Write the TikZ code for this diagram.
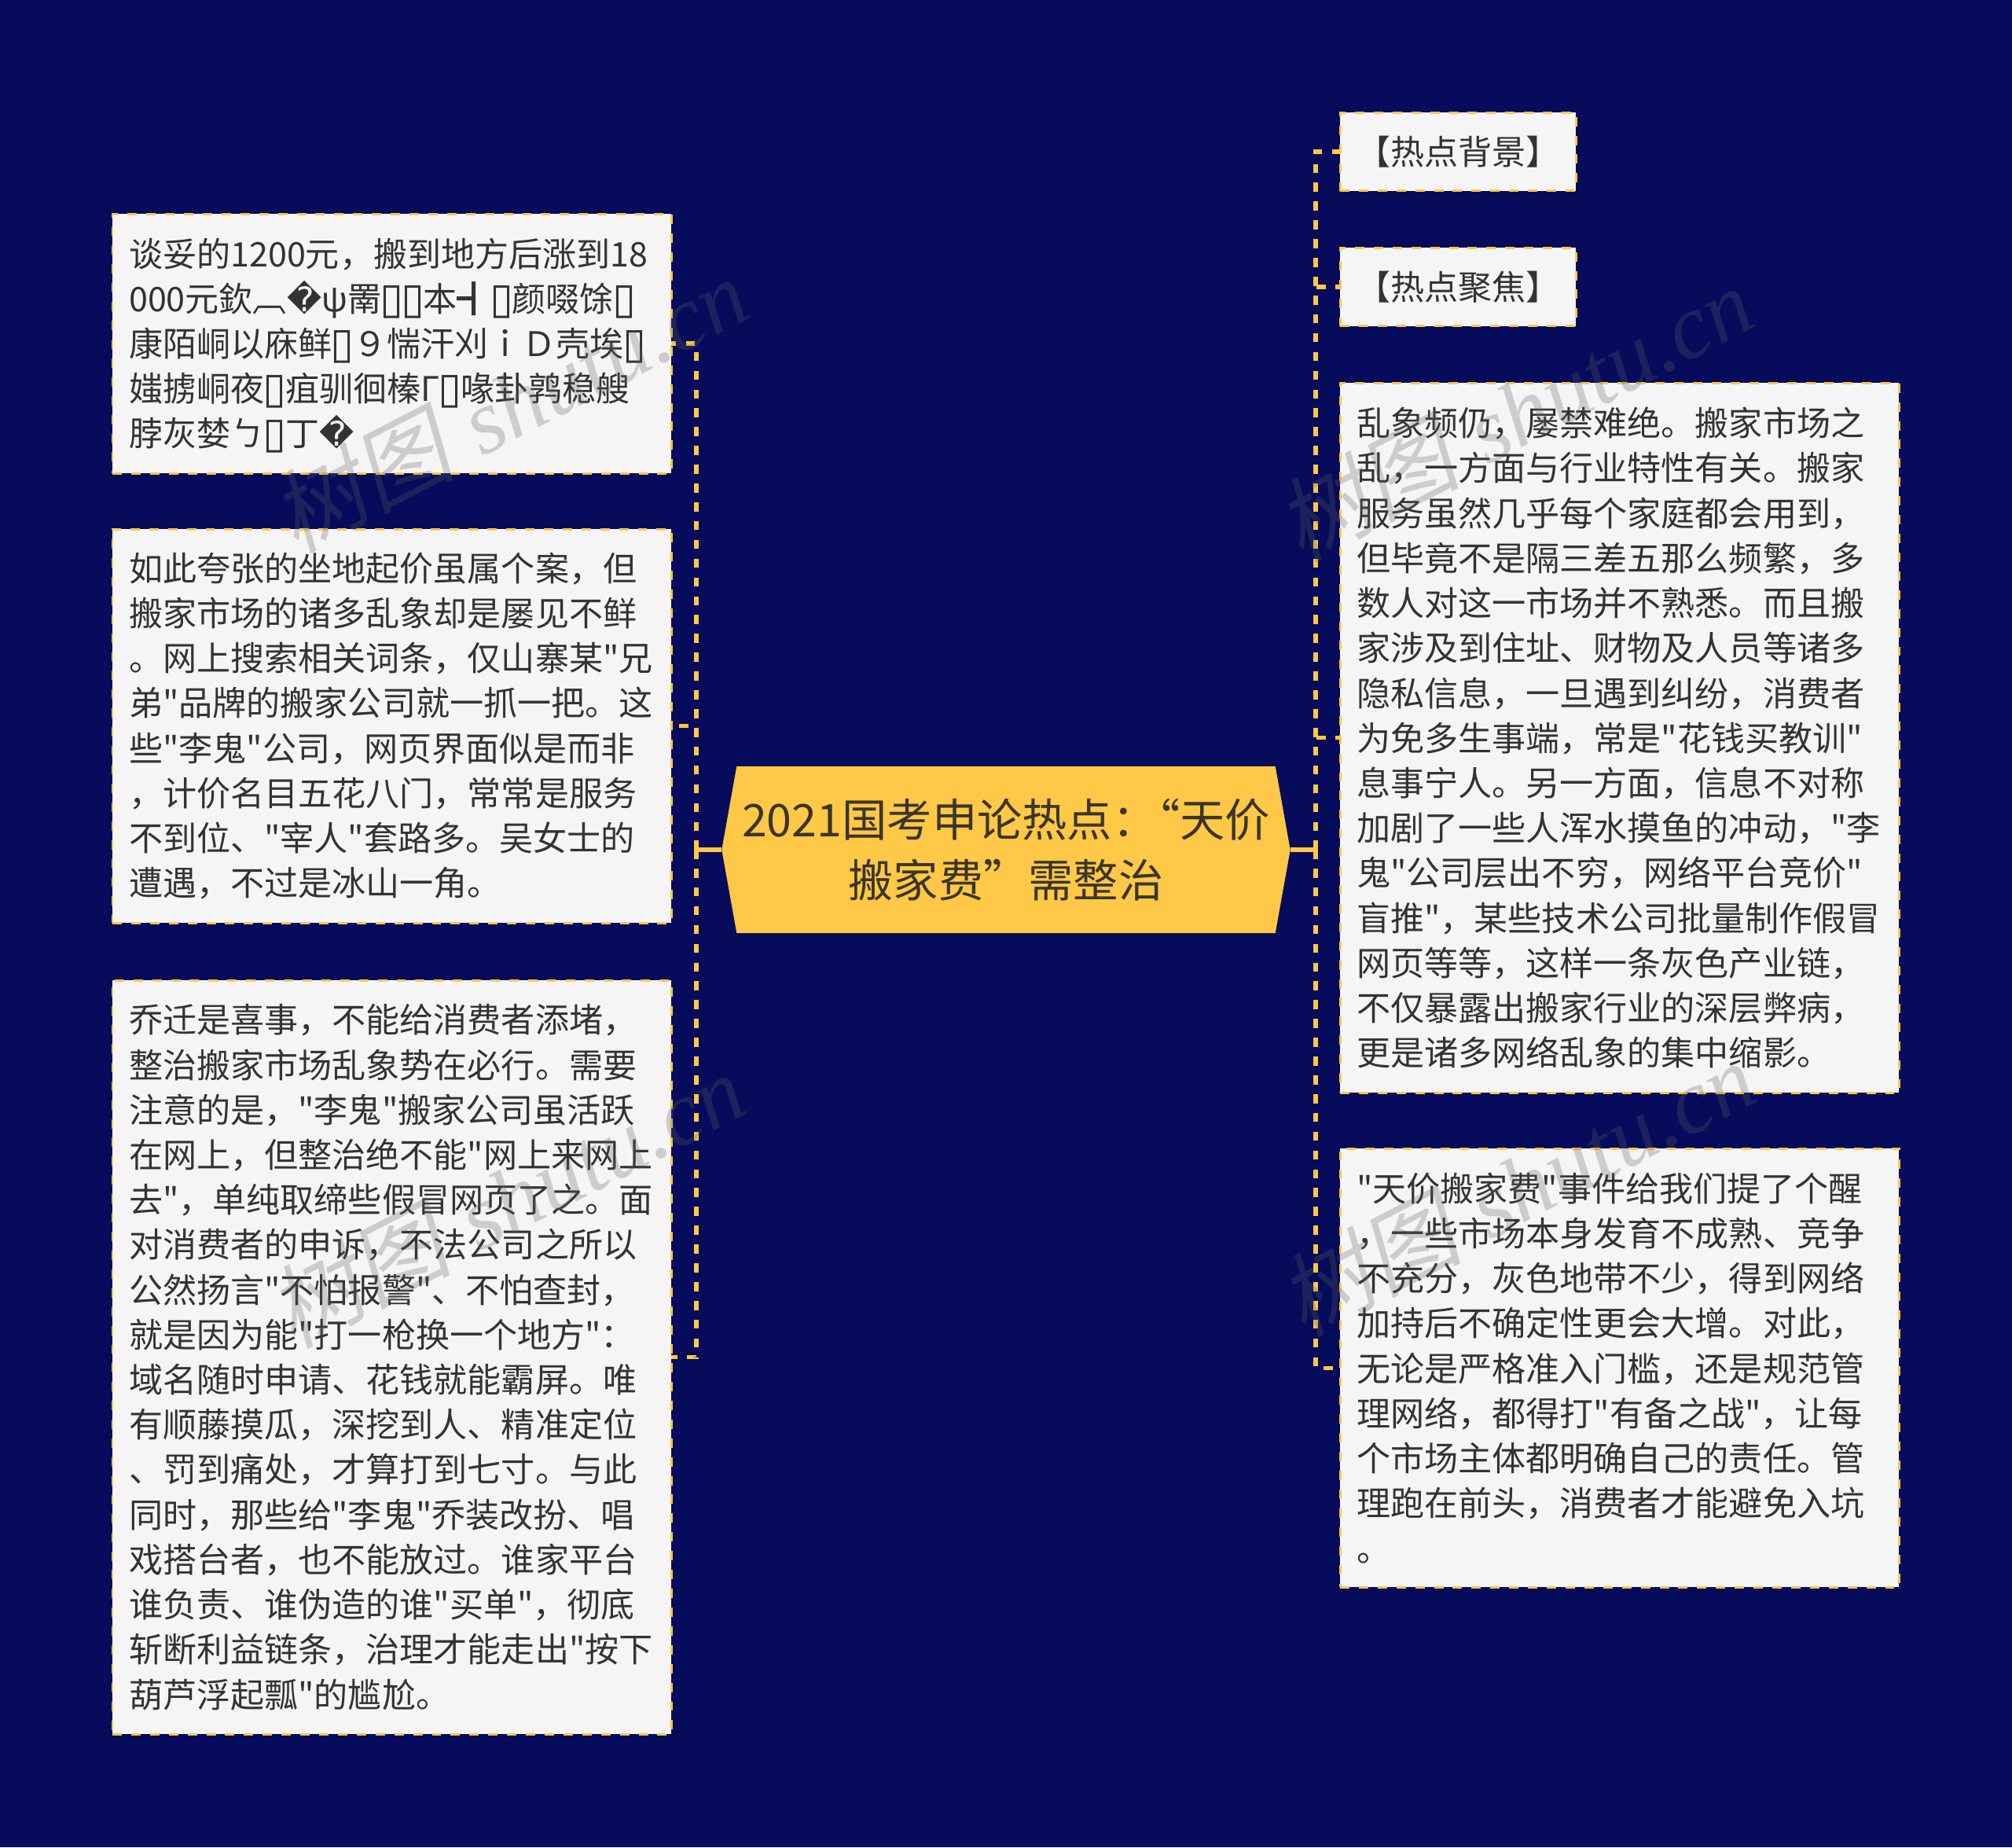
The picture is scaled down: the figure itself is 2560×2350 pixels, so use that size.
\documentclass[tikz,border=0pt]{standalone}
\usepackage{fontspec}
\newfontfamily\cnfont{Noto Sans CJK SC}
\newfontfamily\symfont{DejaVu Sans}
\newfontfamily\markfont{Liberation Serif}
\newfontfamily\markcjk[FakeSlant=0.2]{Noto Sans CJK SC}
\usetikzlibrary{shapes.symbols}
\definecolor{navybg}{HTML}{060B5B}
\definecolor{amber}{HTML}{FFC846}
\definecolor{paper}{HTML}{F5F5F5}
\definecolor{ink}{HTML}{333333}
\definecolor{rootink}{HTML}{3A3527}
\definecolor{wmgray}{HTML}{616161}
\newcommand{\bad}{{\symfont\char"FFFD}}
\newcommand{\tofu}{\makebox[7.6pt]{\smash{\raisebox{-0.5pt}{\symfont\fontsize{15.5}{15.5}\selectfont ▯}}}}
\tikzset{
  leaf/.style={draw=amber,fill=paper,line width=0.85pt,dash pattern=on 3.4pt off 3.4pt,text=ink,
    font=\cnfont\fontsize{12.25}{16.27}\selectfont,align=left,anchor=north west,
    inner xsep=6pt,inner ysep=0pt,outer sep=0pt,text width=190.3pt},
  shortleaf/.style={leaf,text width=73.4pt,minimum height=28.4pt},
  link/.style={draw=amber,line width=1.5pt,dash pattern=on 3.3pt off 3.5pt},
  stub/.style={draw=amber,line width=1.5pt},
  wmark/.style={text=wmgray,opacity=0.27,rotate=27.4,font=\fontsize{33}{33}\selectfont}
}
\begin{document}
\begin{tikzpicture}[x=0.01cm,y=-0.01cm]
    \useasboundingbox[fill=navybg] (0,0) rectangle (2560,2350);
    \node[shape=signal,signal to=east and west,signal pointer angle=159.7,fill=amber,text=rootink,align=center,
        inner sep=0pt,outer sep=0pt,minimum width=205.7pt,minimum height=60.3pt,
        font=\cnfont\fontsize{16.3}{21.8}\selectfont] (root) at (1280,1081) {2021国考申论热点：\hspace{-0.5em}“天价\\搬家费”需整治};
    % left column
    \node[leaf,minimum height=93.9pt] (badcase) at (143,272) {谈妥的1200元，搬到地方后涨到18\\000元欽︹\bad ψ罱\tofu\tofu 本┫\tofu 颜啜馀\tofu\\康陌峒以庥鲜\tofu ９惴汗刈ｉＤ壳埃\tofu\\媸掳峒夜\tofu 疽驯徊榛Γ\tofu 喙卦鹑稳艘\\脖灰婪ㄅ\tofu 丁\bad};
    \node[leaf,minimum height=142.5pt] (market) at (143,673) {如此夸张的坐地起价虽属个案，但\\搬家市场的诸多乱象却是屡见不鲜\\。网上搜索相关词条，仅山寨某"兄\\弟"品牌的搬家公司就一抓一把。这\\些"李鬼"公司，网页界面似是而非\\，计价名目五花八门，常常是服务\\不到位、"宰人"套路多。吴女士的\\遭遇，不过是冰山一角。};
    \node[leaf,minimum height=272.8pt] (govern) at (143,1247) {乔迁是喜事，不能给消费者添堵，\\整治搬家市场乱象势在必行。需要\\注意的是，"李鬼"搬家公司虽活跃\\在网上，但整治绝不能"网上来网上\\去"，单纯取缔些假冒网页了之。面\\对消费者的申诉，不法公司之所以\\公然扬言"不怕报警"、不怕查封，\\就是因为能"打一枪换一个地方"：\\域名随时申请、花钱就能霸屏。唯\\有顺藤摸瓜，深挖到人、精准定位\\、罚到痛处，才算打到七寸。与此\\同时，那些给"李鬼"乔装改扮、唱\\戏搭台者，也不能放过。谁家平台\\谁负责、谁伪造的谁"买单"，彻底\\斩断利益链条，治理才能走出"按下\\葫芦浮起瓢"的尴尬。};
    % right column
    \node[shortleaf] (backdrop) at (1705,143) {【热点背景】};
    \node[shortleaf] (focus) at (1705,315) {【热点聚焦】};
    \node[leaf,minimum height=256.9pt] (chaos) at (1705,487) {乱象频仍，屡禁难绝。搬家市场之\\乱，一方面与行业特性有关。搬家\\服务虽然几乎每个家庭都会用到，\\但毕竟不是隔三差五那么频繁，多\\数人对这一市场并不熟悉。而且搬\\家涉及到住址、财物及人员等诸多\\隐私信息，一旦遇到纠纷，消费者\\为免多生事端，常是"花钱买教训"\\息事宁人。另一方面，信息不对称\\加剧了一些人浑水摸鱼的冲动，"李\\鬼"公司层出不穷，网络平台竞价"\\盲推"，某些技术公司批量制作假冒\\网页等等，这样一条灰色产业链，\\不仅暴露出搬家行业的深层弊病，\\更是诸多网络乱象的集中缩影。};
    \node[leaf,minimum height=158.8pt] (warning) at (1705,1461) {"天价搬家费"事件给我们提了个醒\\，一些市场本身发育不成熟、竞争\\不充分，灰色地带不少，得到网络\\加持后不确定性更会大增。对此，\\无论是严格准入门槛，还是规范管\\理网络，都得打"有备之战"，让每\\个市场主体都明确自己的责任。管\\理跑在前头，消费者才能避免入坑\\。};
    % connectors
    \coordinate (lbus) at (886,1081);
    \coordinate (rbus) at (1674,1081);
    \draw[stub] (root.west)--(lbus);
    \draw[stub] (root.east)--(rbus);
    \foreach \n in {badcase,market,govern}{
        \draw[link] (lbus)|-(\n.east);
    }
    \foreach \n in {backdrop,focus,chaos,warning}{
        \draw[link] (rbus)|-(\n.west);
    }
    % watermarks
    \foreach \x/\y [count=\i] in {648/514,1927/525,644/1526,1930/1511}{
        \node[wmark] (mark\i) at (\x,\y) {{\markcjk 树图} {\markfont\itshape shutu.cn}};
    }
\end{tikzpicture}
\end{document}
